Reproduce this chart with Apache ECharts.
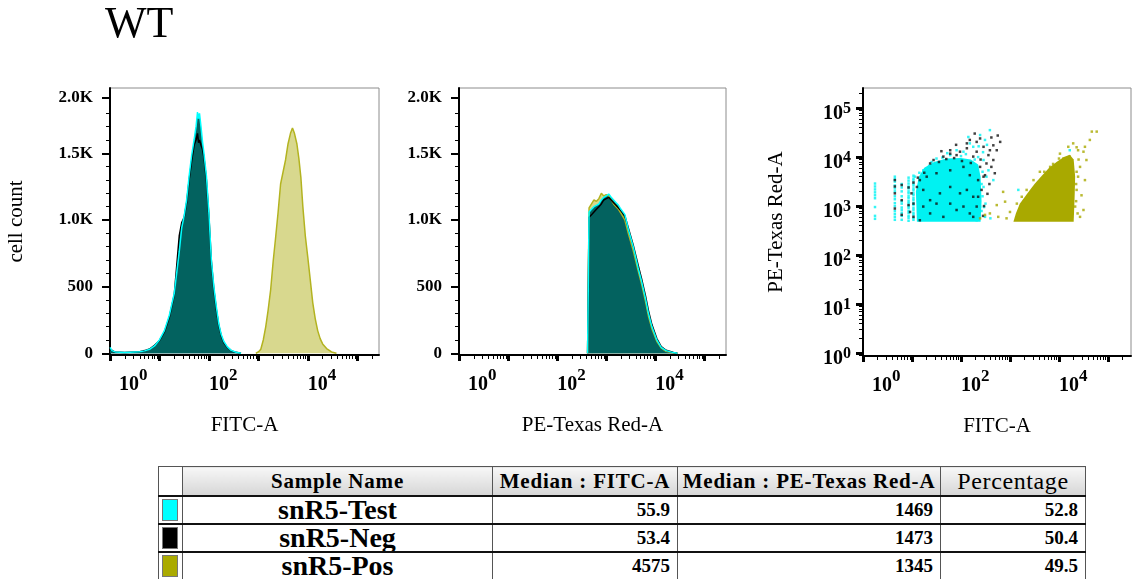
<!DOCTYPE html>
<html>
<head>
<meta charset="utf-8">
<title>WT</title>
<script src="https://cdn.jsdelivr.net/npm/echarts@6.0.0/dist/echarts.min.js"></script>
<style>
  html, body { margin: 0; padding: 0; background: #fff; overflow: hidden; }
  #chart { position: absolute; left: 0; top: 0; width: 1133px; height: 579px; }
  #stats { position: absolute; left: 158px; top: 466px; width: 927px; border-collapse: collapse; table-layout: fixed;
           font-family: "Liberation Serif", "Times New Roman", serif; color: #000; background: #fff; }
  #stats th, #stats td { padding: 0; border: 1.5px solid #555; white-space: nowrap; overflow: hidden; }
  #stats th { height: 28px; font-weight: bold; font-size: 21px; letter-spacing: 0.8px;
              background: linear-gradient(#f7f7f7, #d6d6d6); border-bottom: 2px solid #111; }
  #stats th.pct { font-weight: normal; font-size: 24px; letter-spacing: 0.6px; }
  #stats th.sw { background: #fff; }
  #stats td { height: 26px; border-bottom: 2px solid #111; font-weight: bold; font-size: 19px; text-align: right; padding-right: 7px; }
  #stats td.name { font-size: 28px; text-align: center; padding: 0; line-height: 24px; }
  #stats td.sw { padding: 0 0 0 3px; text-align: left; }
  .swatch { display: block; width: 14px; height: 20px; border: 1px solid #777; }
</style>
</head>
<body>
<div id="chart"></div>
<table id="stats"></table>
<script>
const FONT = '"Liberation Serif", "Times New Roman", serif';

// stats table
const tableHeads = ['Sample Name', 'Median : FITC-A', 'Median : PE-Texas Red-A', 'Percentage'];
const sampleNames = ['snR5-Test', 'snR5-Neg', 'snR5-Pos'];
const sampleColors = ['#00ffff', '#000000', '#aaaa00'];
const medianFitc = ['55.9', '53.4', '4575'];
const medianPe = ['1469', '1473', '1345'];
const percentage = ['52.8', '50.4', '49.5'];

// histogram bins, x in log10(intensity), y in cell count
const fitcLowBins = [0.00, 0.04, 0.10, 0.20, 0.30, 0.40, 0.50, 0.60, 0.70, 0.80, 0.90, 1.00, 1.10, 1.20, 1.30, 1.40, 1.45, 1.50, 1.55, 1.60,
  1.65, 1.70, 1.74, 1.77, 1.79, 1.81, 1.84, 1.87, 1.90, 1.95, 2.00, 2.05, 2.10, 2.15, 2.20, 2.25, 2.30, 2.37, 2.45, 2.55, 2.65];
const fitcTestCounts = [45, 20, 10, 8, 6, 8, 10, 12, 18, 30, 55, 100, 170, 285, 450, 760, 940, 1030, 1150, 1330,
  1480, 1600, 1700, 1810, 1760, 1800, 1700, 1590, 1500, 1330, 1050, 700, 500, 350, 220, 140, 90, 50, 22, 8, 0];
const fitcNegCounts = [30, 15, 8, 8, 6, 8, 10, 12, 20, 32, 60, 95, 160, 270, 440, 880, 980, 1020, 1130, 1300,
  1440, 1560, 1600, 1650, 1580, 1600, 1560, 1530, 1470, 1300, 1030, 690, 480, 330, 210, 130, 80, 45, 20, 7, 0];
const fitcPosBins = [2.95, 3.00, 3.05, 3.10, 3.15, 3.20, 3.25, 3.30, 3.35, 3.40, 3.45, 3.50, 3.55, 3.60, 3.65, 3.69,
  3.73, 3.78, 3.82, 3.86, 3.90, 3.95, 4.00, 4.05, 4.10, 4.15, 4.20, 4.25, 4.30, 4.38, 4.48, 4.58];
const fitcPosCounts = [0, 10, 30, 100, 200, 330, 480, 690, 870, 1060, 1270, 1360, 1450, 1570, 1650, 1690,
  1650, 1570, 1460, 1320, 1100, 880, 720, 550, 380, 260, 170, 110, 70, 35, 10, 0];

const peBins = [2.62, 2.65, 2.70, 2.75, 2.80, 2.85, 2.90, 2.95, 3.00, 3.05, 3.10, 3.15, 3.20, 3.25, 3.30, 3.38,
  3.45, 3.55, 3.65, 3.72, 3.80, 3.86, 3.93, 4.03, 4.12, 4.22, 4.37, 4.45];
const peTestCounts = [0, 1060, 1080, 1100, 1110, 1120, 1150, 1170, 1180, 1195, 1170, 1150, 1130, 1110, 1080, 1040,
  930, 800, 640, 540, 410, 300, 200, 100, 45, 20, 5, 0];
const peNegCounts = [0, 1020, 1040, 1060, 1080, 1100, 1120, 1150, 1160, 1170, 1150, 1130, 1110, 1090, 1070, 1030,
  940, 810, 660, 560, 430, 320, 215, 110, 50, 22, 6, 0];
const pePosCounts = [0, 1090, 1120, 1150, 1140, 1160, 1200, 1180, 1190, 1180, 1150, 1120, 1100, 1080, 1050, 1000,
  900, 770, 620, 520, 390, 280, 185, 90, 40, 15, 3, 0];

// dot plot, [log10 FITC-A, log10 PE-Texas Red-A]
const testCore = [[1.10, 2.68], [1.08, 3.30], [1.14, 3.60], [1.25, 3.78], [1.45, 3.90], [1.70, 3.97], [2.00, 3.98],
  [2.20, 3.95], [2.35, 3.85], [2.40, 3.60], [2.42, 3.10], [2.40, 2.68]];
const testDots = [
  [0.245, 3.46], [0.245, 3.40], [0.245, 3.34], [0.245, 3.28], [0.245, 3.22], [0.245, 3.16], [0.245, 2.98], [0.245, 2.80], [0.245, 2.74],
  [0.65, 3.60], [0.65, 3.55], [0.65, 3.50], [0.65, 3.42], [0.65, 3.36], [0.65, 3.30], [0.65, 3.20], [0.65, 3.14], [0.65, 3.06], [0.65, 3.00], [0.65, 2.90], [0.65, 2.84], [0.65, 2.78], [0.65, 2.72],
  [0.79, 3.45], [0.79, 3.38], [0.79, 3.30], [0.79, 3.20], [0.79, 3.10], [0.79, 3.05], [0.79, 2.97], [0.79, 2.92], [0.79, 2.86], [0.79, 2.80], [0.79, 2.72],
  [0.93, 3.58], [0.93, 3.52], [0.93, 3.46], [0.93, 3.40], [0.93, 3.36], [0.93, 3.30], [0.93, 3.26], [0.93, 3.20], [0.93, 3.16], [0.93, 3.10], [0.93, 3.06], [0.93, 3.00], [0.93, 2.96], [0.93, 2.90], [0.93, 2.86], [0.93, 2.80], [0.93, 2.76], [0.93, 2.70],
  [1.03, 3.62], [1.03, 3.56], [1.03, 3.52], [1.03, 3.46], [1.03, 3.42], [1.03, 3.36], [1.03, 3.32], [1.03, 3.26], [1.03, 3.22], [1.03, 3.16], [1.03, 3.12], [1.03, 3.06], [1.03, 3.02], [1.03, 2.96], [1.03, 2.92], [1.03, 2.86], [1.03, 2.82], [1.03, 2.76], [1.03, 2.72],
  [2.39, 4.45], [2.59, 4.55], [2.49, 4.35], [2.18, 4.28], [2.05, 4.11], [2.46, 3.94], [2.56, 3.73], [2.66, 3.53], [2.46, 3.39],
  [2.39, 2.99], [2.49, 2.78], [2.32, 2.71], [1.50, 3.97], [1.78, 4.04], [1.23, 3.73], [1.06, 3.60], [1.91, 4.14], [2.25, 4.21],
  [2.35, 4.00], [2.15, 4.41], [2.45, 4.10], [2.52, 3.60], [2.44, 3.20], [2.50, 3.05], [2.42, 2.90], [1.15, 3.68], [1.35, 3.82],
  [1.62, 3.99], [2.00, 4.02], [2.28, 3.95], [4.22, 4.14], [3.17, 3.33], [2.60, 2.75], [2.44, 3.70], [2.42, 3.45], [2.47, 2.98],
  [1.40, 3.90], [1.72, 4.08], [2.10, 4.06], [2.36, 4.22], [2.53, 4.25]];
const negDots = [
  [2.18, 4.35], [2.39, 4.38], [2.80, 4.31], [2.66, 4.24], [2.73, 4.14], [2.56, 4.04], [2.46, 4.21], [2.12, 4.18], [1.98, 4.11],
  [1.78, 4.07], [1.64, 4.01], [1.44, 3.94], [1.37, 3.87], [1.91, 4.04], [2.25, 4.01], [2.39, 3.80], [2.52, 3.87], [2.69, 3.67],
  [2.46, 3.60], [2.35, 3.53], [2.18, 3.63], [2.05, 3.80], [1.78, 3.73], [1.50, 3.67], [1.30, 3.60], [1.16, 3.53], [1.10, 3.39],
  [0.99, 3.26], [1.03, 3.05], [0.96, 2.88], [1.03, 2.78], [0.65, 3.53], [0.65, 3.26], [0.65, 2.95], [0.79, 3.43], [0.79, 3.12],
  [0.79, 2.82], [1.23, 3.33], [1.37, 3.12], [1.57, 3.26], [1.78, 3.39], [1.98, 3.26], [2.12, 3.33], [2.25, 3.19], [2.32, 2.99],
  [2.18, 2.85], [1.91, 2.92], [1.64, 2.78], [1.37, 2.85], [1.23, 2.99], [1.16, 2.71], [1.50, 3.05], [1.78, 3.05], [2.05, 2.99],
  [2.25, 2.78], [2.35, 3.19], [2.42, 3.33], [2.49, 3.63], [2.66, 3.94], [2.59, 4.14], [2.32, 4.31], [2.12, 4.28], [1.78, 4.14],
  [2.32, 4.11], [1.55, 3.90], [1.70, 3.96], [1.86, 3.98], [2.02, 3.92], [2.20, 3.88], [1.25, 3.68], [1.12, 3.58], [2.40, 3.95],
  [2.62, 3.80], [2.58, 3.45], [2.54, 3.25], [2.47, 3.00], [2.45, 2.80], [0.93, 3.38], [0.93, 3.02], [1.03, 3.48], [0.65, 3.40],
  [2.75, 4.44], [2.62, 4.40], [2.28, 4.48], [1.90, 4.25], [1.60, 4.12]];
const posCore = [[3.07, 2.68], [3.12, 2.85], [3.20, 3.05], [3.35, 3.25], [3.50, 3.45], [3.65, 3.62], [3.80, 3.78],
  [3.95, 3.90], [4.10, 4.00], [4.22, 4.05], [4.30, 3.95], [4.33, 3.60], [4.32, 3.20], [4.30, 2.68]];
const posDots = [
  [4.77, 4.52], [4.67, 4.52], [4.63, 4.35], [4.53, 4.21], [4.50, 4.11], [4.56, 3.94], [4.39, 4.14], [4.29, 4.28], [4.53, 3.53],
  [4.43, 3.80], [4.39, 3.60], [4.36, 3.33], [4.33, 2.99], [4.43, 2.78], [4.22, 4.01], [4.09, 3.97], [3.82, 3.80], [3.61, 3.70],
  [3.48, 3.53], [3.34, 3.33], [3.24, 3.19], [3.14, 3.05], [3.00, 2.88], [2.86, 3.29], [2.73, 3.02], [2.59, 2.85], [2.49, 2.82],
  [2.76, 2.78], [2.93, 2.75], [2.39, 2.75], [2.90, 3.09], [3.17, 2.78], [4.19, 4.21], [4.02, 4.07], [4.50, 2.92], [4.46, 3.22],
  [4.36, 4.20], [4.40, 3.95], [4.36, 3.70], [4.35, 3.45], [4.35, 3.10], [4.38, 2.85], [4.00, 3.97], [3.88, 3.86], [3.70, 3.70]];

// axis ticks and labels
const countTicks = [0, 500, 1000, 1500, 1915];
const countLabels = ['0', '500', '1.0K', '1.5K', '2.0K'];
const decadeTicks = [0, 1, 2, 3, 4, 5];
const decadeLabels = [0, 2, 4];
const dotYLabels = [0, 1, 2, 3, 4, 5];

const TEAL = '#03625f';

const grids = [
  { left: 110, top: 88, width: 269, height: 267 },
  { left: 459, top: 88, width: 267, height: 267 },
  { left: 863, top: 88, width: 268, height: 268 }
].map(g => Object.assign(g, { show: true, borderColor: '#8c8c8c', borderWidth: 1, backgroundColor: '#fff' }));

function logMinor(lo, hi) {
  const out = [];
  for (let d = Math.floor(lo); d < hi; d++) {
    for (let k = 2; k <= 9; k++) {
      const v = d + Math.log10(k);
      if (v > lo && v < hi) out.push(v);
    }
  }
  return out;
}

const supRich = {
  b: { fontFamily: FONT, fontWeight: 'bold', fontSize: 20, lineHeight: 21, verticalAlign: 'bottom', color: '#000' },
  z: { fontFamily: FONT, fontWeight: 'bold', fontSize: 20, lineHeight: 21, verticalAlign: 'bottom', color: '#000', padding: [0, 0, 0, 9] },
  s: { fontFamily: FONT, fontWeight: 'bold', fontSize: 17, lineHeight: 18, verticalAlign: 'bottom', color: '#000', padding: [0, 0, 11, 0] },
  t: { fontFamily: FONT, fontWeight: 'bold', fontSize: 16, lineHeight: 17, verticalAlign: 'bottom', color: '#000', padding: [0, 0, 7, 0] }
};
const nameStyle = { fontFamily: FONT, fontSize: 21, color: '#000' };

function decadeX(gi, max, name) {
  return [{
    type: 'value', gridIndex: gi, position: 'bottom', min: 0, max: max,
    name: name, nameLocation: 'middle', nameGap: 60, nameTextStyle: nameStyle,
    splitLine: { show: false },
    axisLine: { onZero: false, lineStyle: { color: '#000', width: 2 } },
    axisTick: { customValues: decadeTicks, length: 6, lineStyle: { color: '#000', width: 3 } },
    axisLabel: {
      customValues: decadeLabels, align: 'left', margin: 19, rich: supRich,
      formatter: v => (v === 0 ? '{z|10}' : '{b|10}') + '{s|' + v + '}'
    }
  }, {
    type: 'value', gridIndex: gi, position: 'bottom', min: 0, max: max,
    splitLine: { show: false }, axisLine: { show: false, onZero: false }, axisLabel: { show: false },
    axisTick: { customValues: logMinor(0, max), length: 4, lineStyle: { color: '#000', width: 1 } }
  }];
}

function countY(gi, name) {
  const minor = [];
  for (let v = 100; v < 1900; v += 100) if (v % 500) minor.push(v);
  return [{
    type: 'value', gridIndex: gi, position: 'left', min: -13, max: 1990,
    name: name, nameLocation: 'middle', nameRotate: 90, nameGap: 83, nameTextStyle: nameStyle,
    splitLine: { show: false },
    axisLine: { onZero: false, lineStyle: { color: '#000', width: 2 } },
    axisTick: { customValues: countTicks, length: 8, lineStyle: { color: '#000', width: 2 } },
    axisLabel: {
      customValues: countTicks, margin: 17, fontFamily: FONT, fontWeight: 'bold', fontSize: 17, color: '#000',
      formatter: v => countLabels[countTicks.indexOf(v)]
    }
  }, {
    type: 'value', gridIndex: gi, position: 'left', min: -13, max: 1990,
    splitLine: { show: false }, axisLine: { show: false, onZero: false }, axisLabel: { show: false },
    axisTick: { customValues: minor, length: 4, lineStyle: { color: '#000', width: 1 } }
  }];
}

function dotY(gi, name) {
  return [{
    type: 'value', gridIndex: gi, position: 'left', min: -0.06, max: 5.41,
    name: name, nameLocation: 'middle', nameRotate: 90, nameGap: 76, nameTextStyle: nameStyle,
    splitLine: { show: false },
    axisLine: { onZero: false, lineStyle: { color: '#000', width: 2 } },
    axisTick: { customValues: decadeTicks, length: 7, lineStyle: { color: '#000', width: 3 } },
    axisLabel: {
      customValues: dotYLabels, margin: 12, rich: supRich, padding: [10, 0, 0, 0],
      formatter: v => '{b|10}{t|' + v + '}'
    }
  }, {
    type: 'value', gridIndex: gi, position: 'left', min: -0.06, max: 5.41,
    splitLine: { show: false }, axisLine: { show: false, onZero: false }, axisLabel: { show: false },
    axisTick: { customValues: logMinor(-0.06, 5.41), length: 4, lineStyle: { color: '#000', width: 1 } }
  }];
}

function hist(ai, xs, ys, line, fill) {
  return {
    type: 'line', xAxisIndex: ai, yAxisIndex: ai, data: xs.map((x, i) => [x, ys[i]]),
    symbol: 'none', silent: true,
    lineStyle: { color: line, width: 1.5 }, areaStyle: { color: fill, opacity: 1 }
  };
}

function core(outline, color) {
  return {
    type: 'custom', xAxisIndex: 4, yAxisIndex: 4, data: outline, silent: true,
    renderItem: (params, api) => params.dataIndex !== 0 ? null : {
      type: 'polygon', shape: { points: outline.map(p => api.coord(p)) }, style: { fill: color }
    }
  };
}

function dots(pts, color) {
  return {
    type: 'scatter', xAxisIndex: 4, yAxisIndex: 4, data: pts, silent: true,
    symbol: 'rect', symbolSize: 2.5, itemStyle: { color: color }
  };
}

const option = {
  animation: false,
  backgroundColor: '#fff',
  title: { text: 'WT', left: 105, top: 3, padding: 0, textStyle: { fontFamily: FONT, fontSize: 44, fontWeight: 'normal', color: '#000' } },
  grid: grids,
  xAxis: [].concat(decadeX(0, 5.44, 'FITC-A'), decadeX(1, 5.44, 'PE-Texas Red-A'), decadeX(2, 5.47, 'FITC-A')),
  yAxis: [].concat(countY(0, 'cell count'), countY(1, ''), dotY(2, 'PE-Texas Red-A')),
  series: [
    hist(0, fitcPosBins, fitcPosCounts, '#b3b320', '#d8d88e'),
    hist(0, fitcLowBins, fitcNegCounts, '#000000', TEAL),
    hist(0, fitcLowBins, fitcTestCounts, '#00ffff', TEAL),
    hist(2, peBins, pePosCounts, '#b3b320', '#d8d88e'),
    hist(2, peBins, peNegCounts, '#000000', TEAL),
    hist(2, peBins, peTestCounts, '#00ffff', TEAL),
    core(testCore, '#00f2f2'),
    dots(testDots, '#00f2f2'),
    dots(negDots, '#111111'),
    core(posCore, '#a9a900'),
    dots(posDots, '#a9a900')
  ]
};

const chart = echarts.init(document.getElementById('chart'), null, { renderer: 'canvas' });
chart.setOption(option);

// stats table below the plots
let html = '<colgroup><col style="width:24px"><col style="width:310px"><col style="width:185px"><col style="width:263px"><col style="width:145px"></colgroup>';
html += '<tr><th class="sw"></th>' + tableHeads.map((h, i) => '<th' + (i === 3 ? ' class="pct"' : '') + '>' + h + '</th>').join('') + '</tr>';
sampleNames.forEach((n, i) => {
  html += '<tr><td class="sw"><span class="swatch" style="background:' + sampleColors[i] + '"></span></td>' +
    '<td class="name">' + n + '</td><td>' + medianFitc[i] + '</td><td>' + medianPe[i] + '</td><td>' + percentage[i] + '</td></tr>';
});
document.getElementById('stats').innerHTML = html;
</script>
</body>
</html>
